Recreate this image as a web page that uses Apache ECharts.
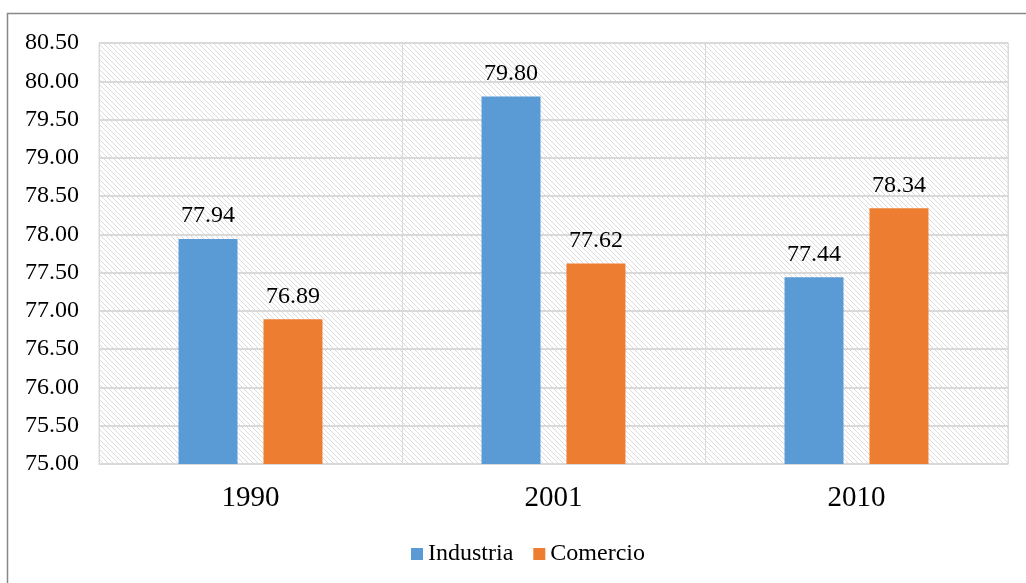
<!DOCTYPE html>
<html><head><meta charset="utf-8">
<script src="https://cdn.jsdelivr.net/npm/echarts@6/dist/echarts.min.js"></script>
<style>html,body{margin:0;padding:0;background:#fff}#c{width:1026px;height:583px}</style>
</head><body><div id="c"></div>
<script>
const categories = ['1990', '2001', '2010'];
const industria = [77.94, 79.80, 77.44];
const comercio = [76.89, 77.62, 78.34];
const seriesNames = ['Industria', 'Comercio'];

const pc = document.createElement('canvas');
pc.width = 5; pc.height = 5;
const ctx = pc.getContext('2d');
ctx.fillStyle = '#ffffff'; ctx.fillRect(0,0,5,5);
ctx.strokeStyle = '#dcdcdc'; ctx.lineWidth = 1;
ctx.beginPath();
ctx.moveTo(-1,-1); ctx.lineTo(6,6);
ctx.moveTo(-1,4); ctx.lineTo(1,6);
ctx.moveTo(4,-1); ctx.lineTo(6,1);
ctx.stroke();

const font = '"Liberation Serif", "Times New Roman", serif';
const chart = echarts.init(document.getElementById('c'));
chart.setOption({
  animation: false,
  textStyle: {fontFamily: font},
  graphic: [{type:'rect', shape:{x:7.5,y:13.5,width:1030,height:600}, style:{fill:'none', stroke:'#888', lineWidth:1.5}, z:-10}],
  grid: {left: 99, right: 18, top: 43, bottom: 119, show: true,
         backgroundColor: {image: pc, repeat: 'repeat'}, borderColor: '#d9d9d9', borderWidth: 1},
  legend: {bottom: 12, left: 406, itemWidth: 12, itemHeight: 12, itemGap: 20,
           icon: 'rect', textStyle: {fontFamily: font, fontSize: 24, color: '#000'}, data: seriesNames},
  xAxis: {type: 'category', data: categories,
          axisLine: {lineStyle: {color: '#d9d9d9'}}, axisTick: {show: false},
          splitLine: {show: true, interval: 0, lineStyle: {color: '#d9d9d9', width: 1}},
          axisLabel: {fontFamily: font, fontSize: 29, color: '#000', margin: 20}},
  yAxis: {type: 'value', min: 75, max: 80.5, interval: 0.5,
          axisLine: {show: false}, axisTick: {show: false},
          splitLine: {lineStyle: {color: '#d9d9d9', width: 2}},
          axisLabel: {fontFamily: font, fontSize: 24, color: '#000', margin: 20,
                      formatter: v => v.toFixed(2)}},
  series: [
    {name: seriesNames[0], type: 'bar', data: industria, barWidth: 59, barGap: '44%',
     itemStyle: {color: '#5b9bd5'},
     label: {show: true, position: 'top', distance: 11, fontFamily: font, fontSize: 24, color: '#000', formatter: p => p.value.toFixed(2)}},
    {name: seriesNames[1], type: 'bar', data: comercio, barWidth: 59, barGap: '44%',
     itemStyle: {color: '#ed7d31'},
     label: {show: true, position: 'top', distance: 11, fontFamily: font, fontSize: 24, color: '#000', formatter: p => p.value.toFixed(2)}}
  ]
});
</script></body></html>
